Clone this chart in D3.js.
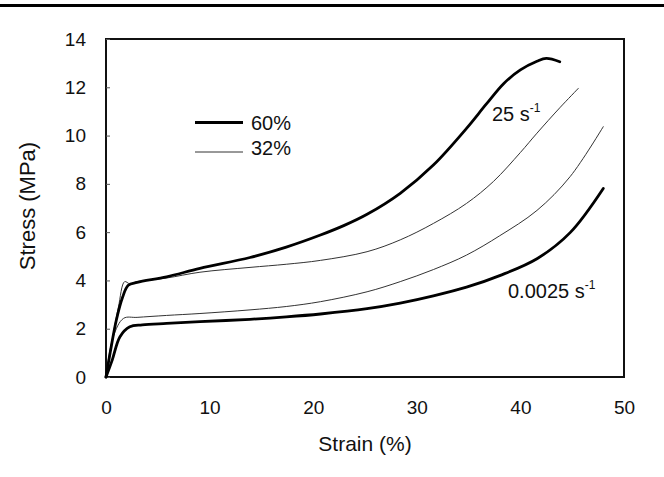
<!DOCTYPE html>
<html>
<head>
<meta charset="utf-8">
<script src="https://cdn.jsdelivr.net/npm/d3@7"></script>
<style>
  html, body { margin: 0; padding: 0; background: #fff; }
  svg { display: block; font-family: "Liberation Sans", Arial, Helvetica, sans-serif; }
</style>
</head>
<body>
<svg id="chart" width="664" height="477"></svg>
<script>
// ---- data ----
const xTicks = [0, 10, 20, 30, 40, 50];
const yTicks = [0, 2, 4, 6, 8, 10, 12, 14];

// 60 %, 25 s^-1 (thick)
const strain60Fast = [0, 0.4, 1.0, 1.6, 2.15, 3, 5.85, 9.07, 13.9, 17.4, 20.7, 23.0, 25.2, 28.4, 31.6, 34.8, 36.7, 38.4, 40.0, 41.6, 42.5, 43.8];
const stress60Fast = [0, 1.0, 2.36, 3.3, 3.8, 3.92, 4.15, 4.5, 4.95, 5.38, 5.88, 6.28, 6.74, 7.61, 8.78, 10.3, 11.3, 12.16, 12.72, 13.08, 13.2, 13.06];

// 32 %, 25 s^-1 (thin)
const strain32Fast = [0, 0.5, 1.2, 1.8, 2.3, 3, 5.85, 9.07, 13.9, 17.4, 20.7, 25.2, 28.4, 31.6, 34.8, 37.4, 40.0, 41.6, 43.8, 45.6];
const stress32Fast = [0, 1.3, 2.9, 3.95, 3.86, 3.95, 4.1, 4.34, 4.54, 4.67, 4.83, 5.19, 5.68, 6.36, 7.19, 8.1, 9.3, 10.1, 11.15, 11.96];

// 32 %, 0.0025 s^-1 (thin)
const strain32Slow = [0, 0.7, 1.7, 3, 5.85, 9.07, 13.9, 17.4, 20.7, 25.2, 28.4, 31.6, 34.8, 38.0, 41.6, 44.8, 48.0];
const stress32Slow = [0, 1.67, 2.43, 2.47, 2.55, 2.63, 2.78, 2.92, 3.12, 3.53, 3.95, 4.45, 5.05, 5.85, 6.9, 8.3, 10.37];

// 60 %, 0.0025 s^-1 (thick)
const strain60Slow = [0, 0.6, 1.35, 2.3, 3.5, 5.85, 9.07, 13.9, 17.4, 20.7, 25.2, 28.4, 31.6, 34.8, 38.0, 41.6, 44.8, 48.0];
const stress60Slow = [0, 0.7, 1.67, 2.08, 2.16, 2.22, 2.29, 2.39, 2.49, 2.61, 2.83, 3.06, 3.36, 3.72, 4.2, 4.9, 5.98, 7.81];

const legendLabels = ["60%", "32%"];

// ---- drawing ----
const svg = d3.select("#chart");
const x = d3.scaleLinear().domain([0, 50]).range([106, 624]);
const y = d3.scaleLinear().domain([0, 14]).range([377, 39]);

// top rule
svg.append("line").attr("x1", 0).attr("x2", 664).attr("y1", 5.5).attr("y2", 5.5)
  .attr("stroke", "#000").attr("stroke-width", 3);

// frame
svg.append("rect").attr("x", x(0)).attr("y", y(14))
  .attr("width", x(50) - x(0)).attr("height", y(0) - y(14))
  .attr("fill", "none").attr("stroke", "#111").attr("stroke-width", 2);

// y axis (ticks inside)
const yAxis = d3.axisLeft(y).tickValues(yTicks).tickSizeInner(-4).tickSizeOuter(0).tickPadding(20);
const gy = svg.append("g").attr("transform", `translate(${x(0)},0)`).call(yAxis);
gy.select(".domain").remove();
gy.selectAll("line").attr("stroke", "#555").attr("stroke-width", 1);
gy.selectAll("text").attr("font-size", 19).attr("fill", "#111")
  .attr("font-family", "Liberation Sans, Arial, sans-serif");

// x axis
const xAxis = d3.axisBottom(x).tickValues(xTicks).tickSize(0).tickPadding(24);
const gx = svg.append("g").attr("transform", `translate(0,${y(0)})`).call(xAxis);
gx.select(".domain").remove();
gx.selectAll("text").attr("font-size", 19).attr("fill", "#111")
  .attr("font-family", "Liberation Sans, Arial, sans-serif");

// axis titles
svg.append("text").attr("x", 365).attr("y", 451).attr("text-anchor", "middle")
  .attr("font-size", 21).attr("fill", "#111").text("Strain (%)");
svg.append("text").attr("transform", "translate(35,206) rotate(-90)").attr("text-anchor", "middle")
  .attr("font-size", 22).attr("fill", "#111").text("Stress (MPa)");

// curves
const line = d3.line().x(d => x(d[0])).y(d => y(d[1])).curve(d3.curveCatmullRom.alpha(0.5));
const series = [
  { xs: strain32Fast, ys: stress32Fast, w: 1, c: "#333" },
  { xs: strain32Slow, ys: stress32Slow, w: 1, c: "#333" },
  { xs: strain60Fast, ys: stress60Fast, w: 2.8, c: "#000" },
  { xs: strain60Slow, ys: stress60Slow, w: 2.8, c: "#000" }
];
series.forEach(s => {
  const pts = s.xs.map((v, i) => [v, s.ys[i]]);
  svg.append("path").datum(pts).attr("d", line)
    .attr("fill", "none").attr("stroke", s.c).attr("stroke-width", s.w)
    .attr("stroke-linejoin", "round").attr("stroke-linecap", "round");
});

// legend
const legendY = [122.5, 152];
const legendW = [2.8, 1];
legendLabels.forEach((lab, i) => {
  svg.append("line").attr("x1", 195).attr("x2", 243).attr("y1", legendY[i]).attr("y2", legendY[i])
    .attr("stroke", i === 0 ? "#000" : "#333").attr("stroke-width", legendW[i]);
  svg.append("text").attr("x", 251).attr("y", legendY[i] + (i === 0 ? 7 : 3))
    .attr("font-size", 20).attr("fill", "#111").text(lab);
});

// annotations
function rateLabel(px, py, base) {
  const t = svg.append("text").attr("x", px).attr("y", py).attr("font-size", 20).attr("fill", "#111");
  t.append("tspan").text(base + " s");
  t.append("tspan").attr("font-size", 12).attr("dy", -9).text("-1");
}
rateLabel(492, 121, "25");
rateLabel(508, 298, "0.0025");
</script>
</body>
</html>
